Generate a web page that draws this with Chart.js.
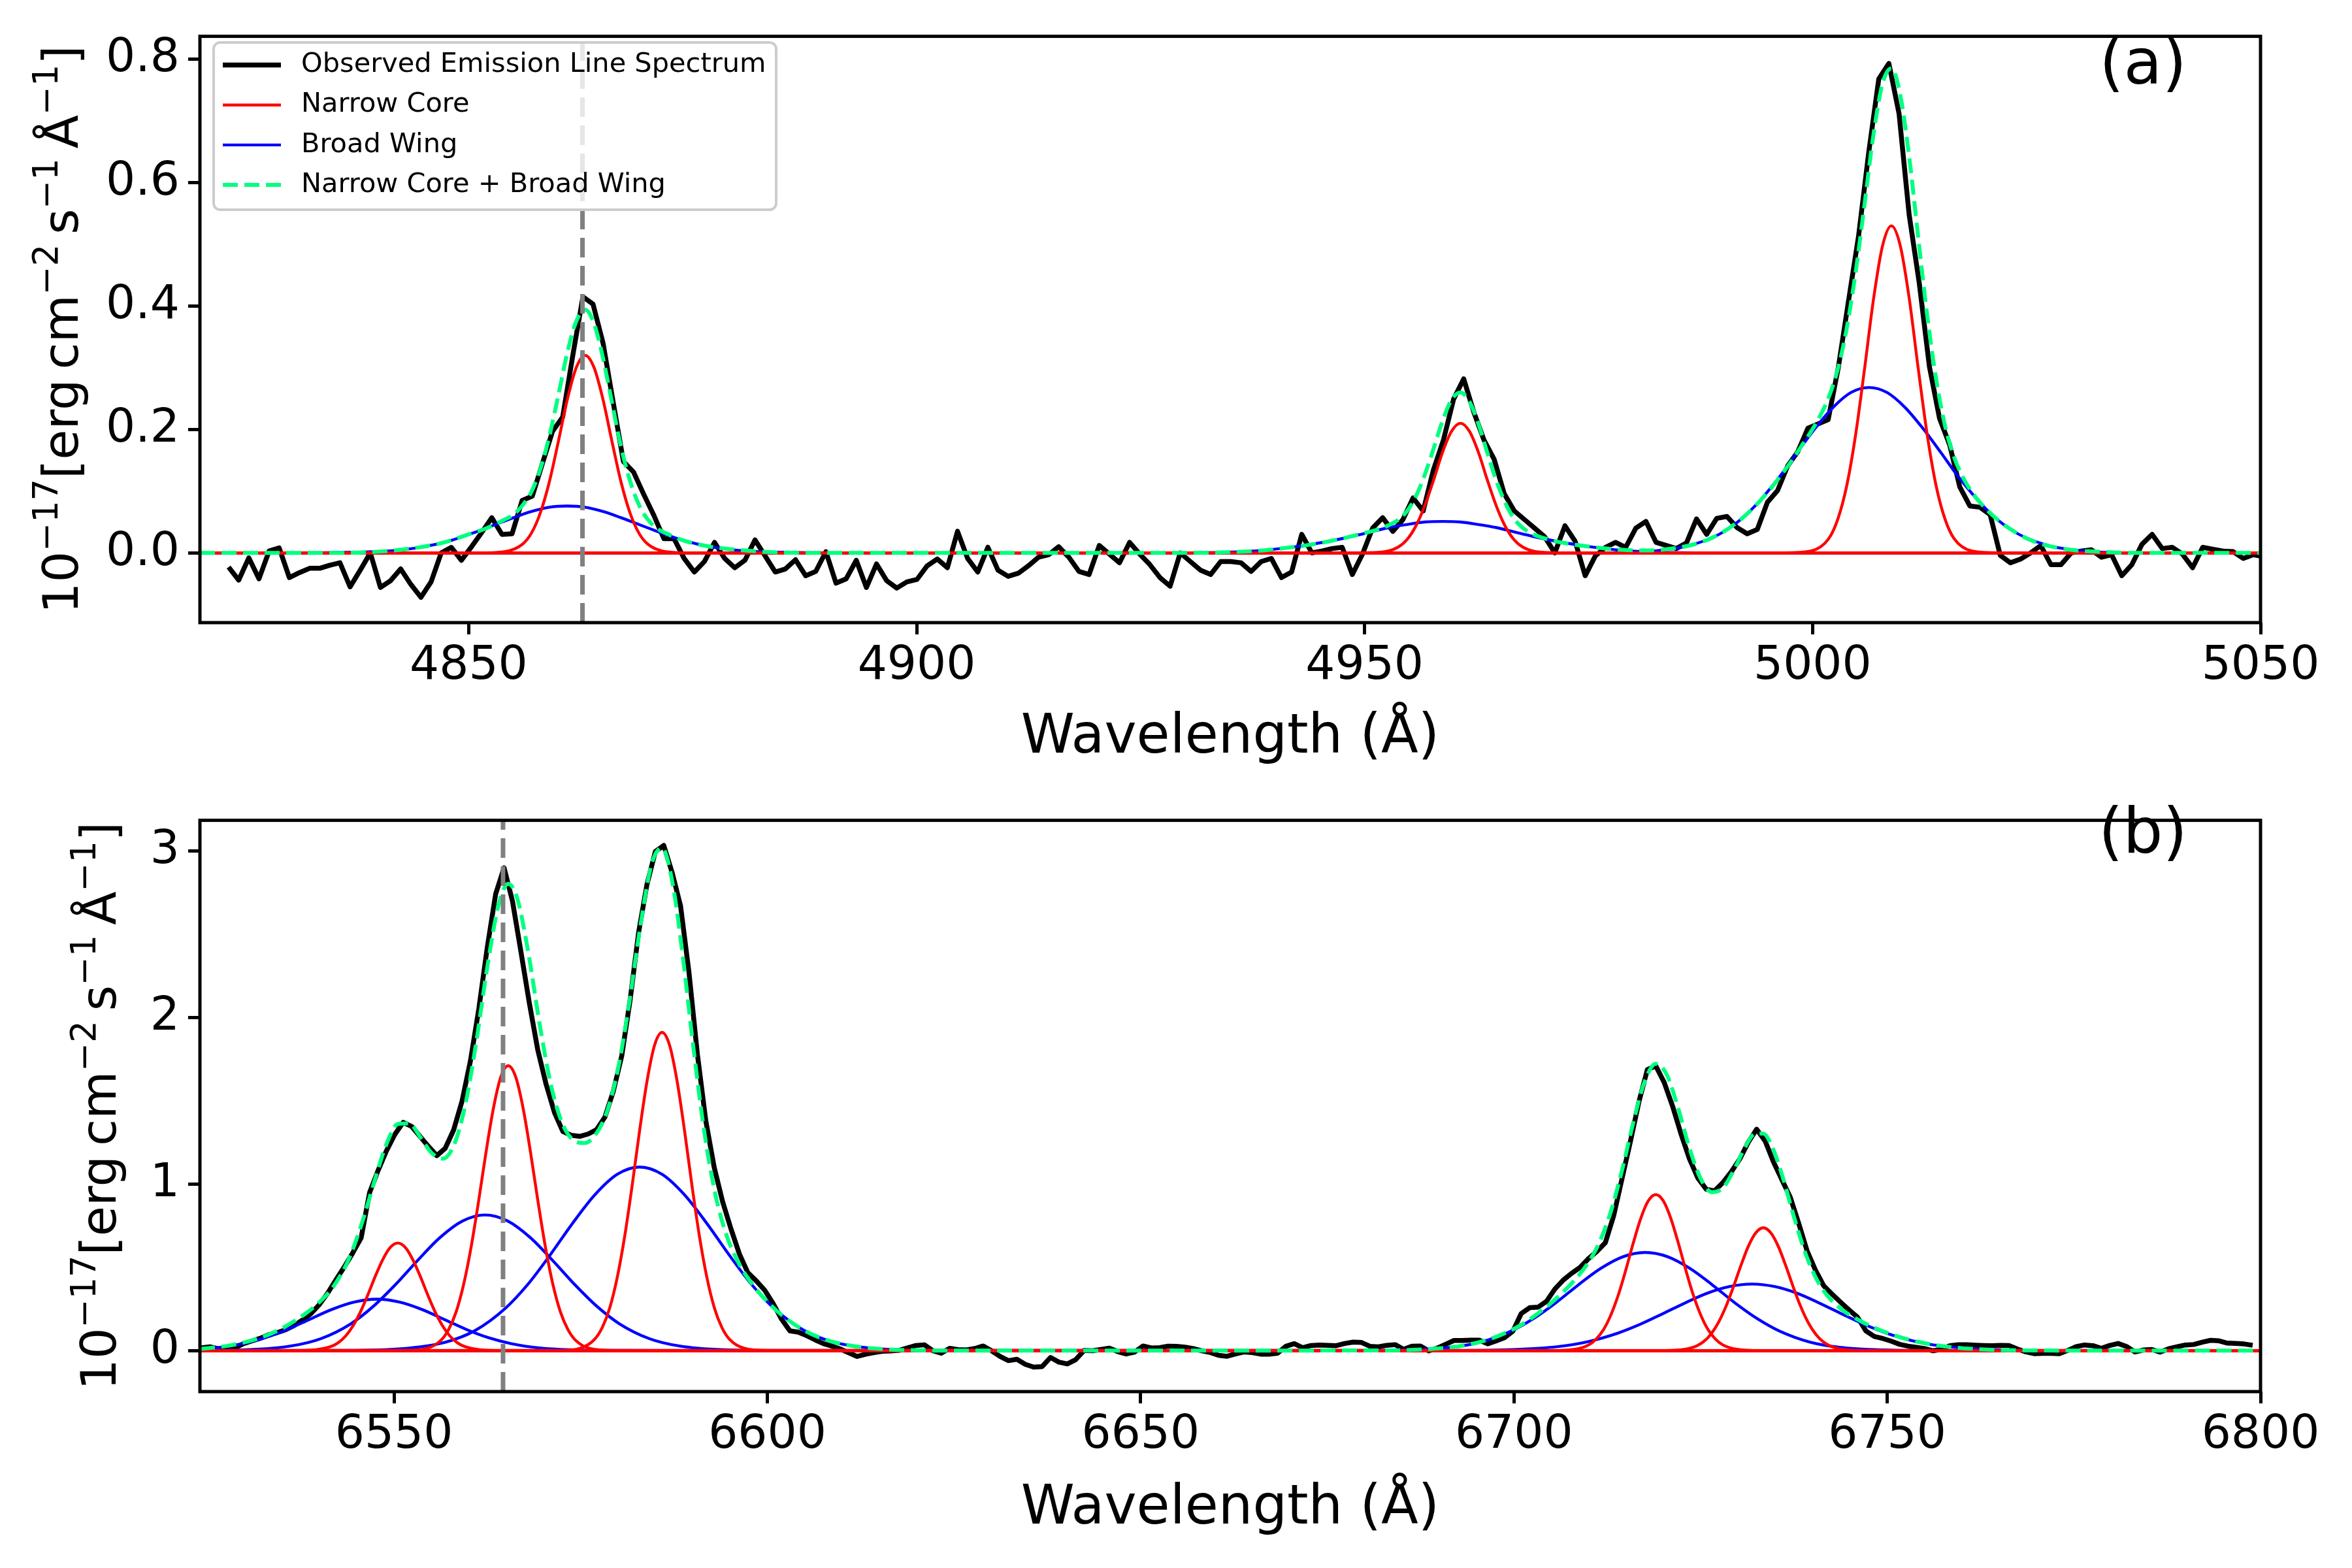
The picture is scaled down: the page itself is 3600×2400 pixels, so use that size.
<!DOCTYPE html>
<html>
<head>
<meta charset="utf-8">
<title>Emission line decomposition</title>
<script src="https://cdn.jsdelivr.net/npm/chart.js@4.4.1/dist/chart.umd.min.js"></script>
<style>
  html, body { margin: 0; padding: 0; background: #fff; }
  .panel { position: absolute; left: 0; width: 3600px; height: 1200px; }
  #boxA { top: 0; }
  #boxB { top: 1200px; }
</style>
</head>
<body>
<div class="panel" id="boxA"><canvas id="panelA"></canvas></div>
<div class="panel" id="boxB"><canvas id="panelB"></canvas></div>
<script>
// ---------- panel (a): H-beta + [OIII] ----------
const waveStartA = 4823.2;
const waveStepA = 1.13;
const obsFluxA = [
  -0.023, -0.044, -0.008, -0.042, 0.003, 0.008, -0.040, -0.032, -0.025, -0.025,
  -0.020, -0.016, -0.055, -0.028, 0.000, -0.056, -0.045, -0.026, -0.051, -0.072,
  -0.047, 0.000, 0.009, -0.012, 0.010, 0.033, 0.057, 0.030, 0.031, 0.085,
  0.092, 0.145, 0.197, 0.220, 0.320, 0.415, 0.403, 0.339, 0.243, 0.148,
  0.131, 0.095, 0.061, 0.023, 0.023, -0.009, -0.031, -0.014, 0.017, -0.009,
  -0.024, -0.012, 0.021, -0.005, -0.031, -0.026, -0.011, -0.037, -0.030, 0.002,
  -0.049, -0.042, -0.012, -0.056, -0.018, -0.045, -0.057,
  -0.047, -0.043, -0.021,
  -0.010, -0.024, 0.035, -0.009, -0.031, 0.009, -0.028, -0.038, -0.033, -0.021,
  -0.007, -0.003, 0.010, -0.007, -0.030, -0.035, 0.012, -0.002, -0.016, 0.017,
  -0.002, -0.019, -0.040, -0.054, 0.000, -0.014, -0.028, -0.035, -0.014, -0.014,
  -0.016, -0.030, -0.014, -0.009, -0.040, -0.031, 0.030, 0.000, 0.003, 0.007,
  0.009, -0.035, -0.002, 0.040, 0.057, 0.035, 0.054, 0.089, 0.068, 0.134,
  0.183, 0.249, 0.282, 0.228, 0.183, 0.152, 0.096, 0.068, 0.054, 0.040,
  0.026, 0.000, 0.044, 0.019, -0.037, -0.005,
  0.009, 0.017, 0.009, 0.040, 0.051, 0.017, 0.012, 0.007, 0.016, 0.055,
  0.030, 0.056, 0.059, 0.041, 0.031, 0.038, 0.082, 0.101, 0.141, 0.164,
  0.202, 0.209, 0.216,
  0.300, 0.407, 0.513, 0.648, 0.768, 0.793, 0.712, 0.548, 0.437, 0.302,
  0.218, 0.175, 0.107, 0.076, 0.074, 0.062, -0.004, -0.016, -0.010, 0.000,
  0.012, -0.019, -0.019, 0.000, 0.003, 0.005, -0.007, -0.003, -0.037, -0.019,
  0.014, 0.030, 0.007, 0.009, -0.002, -0.024, 0.009, 0.006, 0.003, 0.002,
  -0.009, -0.003, -0.006
];

const coreOffsetsA = [-12, -9, -7, -6, -5, -4, -3, -2, -1, 0, 1, 2, 3, 4, 5, 6, 7, 9, 12];
const coreCentersA = [4863.0, 4960.7, 5008.8];
const coreA1 = [0, 0.002, 0.014, 0.032, 0.065, 0.115, 0.180, 0.248, 0.300, 0.320, 0.300, 0.248, 0.180, 0.115, 0.065, 0.032, 0.014, 0.002, 0];
const coreA2 = [0, 0.001, 0.009, 0.021, 0.043, 0.076, 0.118, 0.163, 0.197, 0.210, 0.197, 0.163, 0.118, 0.076, 0.043, 0.021, 0.009, 0.001, 0];
const coreA3 = [0, 0.003, 0.023, 0.054, 0.108, 0.191, 0.298, 0.411, 0.497, 0.530, 0.497, 0.411, 0.298, 0.191, 0.108, 0.054, 0.023, 0.003, 0];

const wingOffsetsA = [-30, -24, -20, -16, -13, -10, -8, -6, -4, -2, 0, 2, 4, 6, 8, 10, 13, 16, 20, 24, 30];
const wingCentersA = [4861.0, 4958.7, 5006.3];
const wingA1 = [0, 0.001, 0.003, 0.010, 0.020, 0.035, 0.046, 0.057, 0.067, 0.074, 0.076, 0.074, 0.067, 0.057, 0.046, 0.035, 0.020, 0.010, 0.003, 0.001, 0];
const wingA2 = [0, 0.001, 0.004, 0.011, 0.018, 0.027, 0.034, 0.041, 0.046, 0.050, 0.051, 0.050, 0.046, 0.041, 0.034, 0.027, 0.018, 0.011, 0.004, 0.001, 0];
const wingA3 = [0, 0.003, 0.012, 0.036, 0.072, 0.123, 0.163, 0.202, 0.236, 0.260, 0.268, 0.260, 0.236, 0.202, 0.163, 0.123, 0.072, 0.036, 0.012, 0.003, 0];

const sumWaveA = [
  4820, 4835, 4840, 4844, 4847, 4850, 4852,
  4854, 4855, 4856, 4857, 4858, 4859, 4860, 4861, 4862, 4863, 4864, 4865, 4866, 4867, 4868, 4869, 4870, 4871, 4872,
  4874, 4877, 4880, 4884, 4888, 4895,
  4925.7, 4930.7, 4934.7, 4938.7, 4941.7, 4944.7, 4947.7, 4949.7,
  4951.7, 4952.7, 4953.7, 4954.7, 4955.7, 4956.7, 4957.7, 4958.7, 4959.7, 4960.7, 4961.7, 4962.7, 4963.7, 4964.7, 4965.7, 4966.7, 4967.7, 4968.7,
  4970.7, 4972.7, 4975.7, 4978.7, 4981.7, 4984.7,
  4987.3, 4989.8, 4991.8, 4993.8, 4995.8, 4997.8,
  4998.8, 4999.8, 5000.8, 5001.8, 5002.8, 5003.8, 5004.8, 5005.8, 5006.8, 5007.8, 5008.8, 5009.8, 5010.8, 5011.8, 5012.8, 5013.8, 5014.8, 5015.8, 5016.8, 5017.8, 5018.8,
  5020.8, 5022.8, 5024.8, 5026.8, 5028.8, 5031.8, 5035.8, 5050
];
const sumFluxA = [
  0, 0, 0.002, 0.008, 0.016, 0.030, 0.040,
  0.054, 0.062, 0.077, 0.099, 0.136, 0.189, 0.255, 0.324, 0.375, 0.394, 0.371, 0.315, 0.243, 0.172, 0.117, 0.078, 0.054, 0.040, 0.032,
  0.020, 0.010, 0.005, 0.001, 0, 0,
  0, 0, 0.001, 0.004, 0.009, 0.015, 0.024, 0.031,
  0.039, 0.045, 0.053, 0.067, 0.091, 0.126, 0.169, 0.214, 0.248, 0.260, 0.245, 0.209, 0.162, 0.117, 0.081, 0.055, 0.040, 0.031,
  0.021, 0.015, 0.009, 0.005, 0.004, 0.008,
  0.016, 0.032, 0.052, 0.079, 0.113, 0.152,
  0.174, 0.196, 0.221, 0.252, 0.297, 0.363, 0.454, 0.565, 0.678, 0.760, 0.785, 0.741, 0.640, 0.510, 0.384, 0.281, 0.205, 0.155, 0.122, 0.098, 0.080,
  0.052, 0.032, 0.018, 0.010, 0.005, 0.002, 0, 0
];

const xTicksA = [4850, 4900, 4950, 5000, 5050];
const yTicksA = [0, 0.2, 0.4, 0.6, 0.8];
const yTickLabelsA = ['0.0', '0.2', '0.4', '0.6', '0.8'];

// ---------- panel (b): H-alpha + [NII] + [SII] ----------
const waveStartB = 6524.2;
const waveStepB = 1.126;
const obsFluxB = [
  0.017, 0.023, 0.011, 0.004, 0.016, 0.042, 0.058, 0.074, 0.096, 0.108,
  0.125, 0.150, 0.183, 0.221, 0.275, 0.344, 0.425, 0.503, 0.587, 0.677,
  0.948, 1.080, 1.199, 1.298, 1.371, 1.347, 1.287, 1.227, 1.171, 1.215,
  1.325, 1.498, 1.740, 2.053, 2.420, 2.742, 2.900, 2.700, 2.398, 2.090,
  1.809, 1.600, 1.430, 1.316, 1.293, 1.287, 1.301, 1.327, 1.403, 1.558,
  1.770, 2.107, 2.510, 2.800, 2.998, 3.034, 2.870, 2.670, 2.270, 1.780,
  1.380, 1.100, 0.894, 0.730, 0.580, 0.468, 0.419, 0.363, 0.284, 0.190,
  0.119, 0.111, 0.090, 0.065, 0.042, 0.027, 0.010, -0.013, -0.035, -0.022,
  -0.012, -0.004, -0.002, 0.002, 0.017, 0.031, 0.035, 0.000, -0.015, 0.014,
  0.006, 0.004, 0.013, 0.028, -0.001, -0.035, -0.060, -0.052, -0.082, -0.099,
  -0.096, -0.041, -0.069, -0.080, -0.054, 0.001, -0.001, 0.007, 0.015, -0.006,
  -0.020, -0.009, 0.028, 0.016, 0.018, 0.027, 0.026, 0.021, 0.012, -0.001,
  -0.011, -0.028, -0.034, -0.020, -0.008, -0.012, -0.021, -0.021, -0.016, 0.026,
  0.042, 0.017, 0.031, 0.034, 0.032, 0.030, 0.043, 0.051, 0.049, 0.026,
  0.023, 0.032, 0.036, 0.008, 0.027, 0.028, -0.002, 0.015, 0.038, 0.061,
  0.061, 0.063, 0.063, 0.041, 0.058, 0.078, 0.117, 0.223, 0.258, 0.261,
  0.296, 0.370, 0.424, 0.465, 0.500, 0.553, 0.596, 0.648, 0.812, 1.036,
  1.260, 1.495, 1.688, 1.710, 1.611, 1.468, 1.302, 1.153, 1.037, 0.969,
  0.960, 1.010, 1.075, 1.152, 1.251, 1.330, 1.260, 1.134, 1.027, 0.921,
  0.765, 0.599, 0.483, 0.388, 0.338, 0.290, 0.244, 0.201, 0.118, 0.085,
  0.073, 0.057, 0.038, 0.027, 0.020, 0.012, -0.001, 0.008, 0.030, 0.036,
  0.036, 0.033, 0.031, 0.030, 0.032, 0.031, 0.010, -0.007, -0.018, -0.016,
  -0.016, -0.018, 0.001, 0.024, 0.034, 0.030, 0.014, 0.031, 0.043, 0.025,
  -0.008, 0.004, 0.007, -0.009, 0.011, 0.023, 0.034, 0.037, 0.051, 0.062,
  0.059, 0.045, 0.043, 0.040, 0.032
];

const coreOffsetsB = [-14, -11, -9, -8, -7, -6, -5, -4, -3, -2, -1, 0, 1, 2, 3, 4, 5, 6, 7, 8, 9, 11, 14];
const coreCentersB = [6550.5, 6565.3, 6585.9, 6719.0, 6733.4];
const coreB1 = [0, 0.005, 0.024, 0.047, 0.087, 0.149, 0.233, 0.336, 0.448, 0.548, 0.620, 0.646, 0.620, 0.548, 0.448, 0.336, 0.233, 0.149, 0.087, 0.047, 0.024, 0.005, 0];
const coreB2 = [0.001, 0.012, 0.063, 0.126, 0.231, 0.394, 0.616, 0.890, 1.186, 1.453, 1.643, 1.711, 1.643, 1.453, 1.186, 0.890, 0.616, 0.394, 0.231, 0.126, 0.063, 0.012, 0.001];
const coreB3 = [0.001, 0.014, 0.070, 0.140, 0.258, 0.440, 0.688, 0.994, 1.324, 1.622, 1.835, 1.911, 1.835, 1.622, 1.324, 0.994, 0.688, 0.440, 0.258, 0.140, 0.070, 0.014, 0.001];
const coreB4 = [0, 0.007, 0.034, 0.069, 0.126, 0.216, 0.337, 0.487, 0.649, 0.796, 0.900, 0.937, 0.900, 0.796, 0.649, 0.487, 0.337, 0.216, 0.126, 0.069, 0.034, 0.007, 0];
const coreB5 = [0, 0.005, 0.027, 0.054, 0.100, 0.170, 0.266, 0.384, 0.511, 0.627, 0.708, 0.738, 0.708, 0.627, 0.511, 0.384, 0.266, 0.170, 0.100, 0.054, 0.027, 0.005, 0];

const wingOffsetsB = [-40, -32, -26, -22, -18, -15, -12, -9, -6, -3, 0, 3, 6, 9, 12, 15, 18, 22, 26, 32, 40];
const wingCentersB = [6547.7, 6562.2, 6582.9, 6717.6, 6731.9];
const wingB1 = [0, 0.001, 0.005, 0.015, 0.042, 0.077, 0.127, 0.188, 0.248, 0.292, 0.309, 0.292, 0.248, 0.188, 0.127, 0.077, 0.042, 0.015, 0.005, 0.001, 0];
const wingB2 = [0, 0.005, 0.028, 0.072, 0.161, 0.265, 0.397, 0.544, 0.681, 0.779, 0.815, 0.779, 0.681, 0.544, 0.397, 0.265, 0.161, 0.072, 0.028, 0.005, 0];
const wingB3 = [0.001, 0.011, 0.051, 0.122, 0.254, 0.397, 0.574, 0.764, 0.936, 1.059, 1.103, 1.059, 0.936, 0.764, 0.574, 0.397, 0.254, 0.122, 0.051, 0.011, 0.001];
const wingB4 = [0, 0.004, 0.020, 0.052, 0.117, 0.192, 0.287, 0.394, 0.493, 0.564, 0.590, 0.564, 0.493, 0.394, 0.287, 0.192, 0.117, 0.052, 0.020, 0.004, 0];
const wingB5 = [0.001, 0.006, 0.024, 0.054, 0.105, 0.158, 0.221, 0.286, 0.345, 0.385, 0.400, 0.385, 0.345, 0.286, 0.221, 0.158, 0.105, 0.054, 0.024, 0.006, 0.001];

const sumWaveB = [
  6524, 6528, 6532, 6535, 6538, 6540, 6542, 6544, 6546, 6547.5,
  6549, 6550.5, 6552, 6553.5, 6555, 6556.5, 6558, 6559.5, 6561, 6562.5,
  6564, 6565.3, 6566.5, 6568, 6569.5, 6571, 6572.5, 6574, 6575.5, 6577,
  6578.5, 6580, 6581.5, 6583, 6584.5, 6585.9, 6587.3, 6588.7, 6590, 6591.5,
  6593, 6594.5, 6596, 6598, 6600, 6602, 6605, 6608, 6612, 6616,
  6620, 6626, 6680, 6688, 6694, 6698, 6701, 6704, 6706, 6708,
  6710, 6711.5, 6713, 6714.5, 6716, 6717.5, 6719, 6720.5, 6722, 6723.5,
  6725, 6726.5, 6728, 6729.5, 6731, 6732.3, 6733.4, 6734.6, 6736, 6737.5,
  6739, 6740.5, 6742, 6744, 6746, 6748, 6751, 6754, 6758, 6763,
  6770, 6780, 6800
];
const sumFluxB = [
  0.010, 0.031, 0.076, 0.134, 0.218, 0.291, 0.393, 0.556, 0.808, 1.037,
  1.242, 1.361, 1.365, 1.284, 1.189, 1.153, 1.232, 1.466, 1.850, 2.306,
  2.677, 2.804, 2.717, 2.387, 1.962, 1.599, 1.369, 1.265, 1.247, 1.298,
  1.433, 1.691, 2.087, 2.552, 2.922, 3.019, 2.809, 2.359, 1.857, 1.331,
  0.946, 0.697, 0.539, 0.398, 0.294, 0.211, 0.120, 0.063, 0.024, 0.008,
  0.002, 0, 0.001, 0.008, 0.037, 0.090, 0.156, 0.250, 0.327, 0.417,
  0.532, 0.656, 0.838, 1.087, 1.373, 1.615, 1.723, 1.655, 1.455, 1.218,
  1.034, 0.952, 0.978, 1.088, 1.225, 1.303, 1.304, 1.223, 1.042, 0.804,
  0.590, 0.432, 0.329, 0.244, 0.188, 0.143, 0.091, 0.054, 0.024, 0.007,
  0.001, 0, 0
];

const xTicksB = [6550, 6600, 6650, 6700, 6750, 6800];
const yTicksB = [0, 1, 2, 3];
const yTickLabelsB = ['0', '1', '2', '3'];

const legendLabels = ['Observed Emission Line Spectrum', 'Narrow Core', 'Broad Wing', 'Narrow Core + Broad Wing'];
const xTitle = 'Wavelength (Å)';
// y label in pieces: [text, isSuperscript]; null = thin space
const yTitleParts = [['10', false], ['−17', true], ['[erg', false], null, ['cm', false], ['−2', true], null,
                     ['s', false], ['−1', true], null, ['Å', false], ['−1', true], [']', false]];

// ---------- drawing ----------
const FAMILY = '"DejaVu Sans", "Liberation Sans", sans-serif';
Chart.defaults.font.family = FAMILY;

function sampled(start, step, flux) {
    return flux.map((y, i) => ({ x: start + i * step, y: y }));
}

function paired(xs, ys) {
    return xs.map((x, i) => ({ x: x, y: ys[i] }));
}

// one gaussian component; it is zero out to both edges of the panel
function profile(center, offsets, values, xMin, xMax) {
    const pts = offsets.map((d, i) => ({ x: center + d, y: values[i] }));
    if (pts[0].x > xMin) pts.unshift({ x: xMin, y: 0 });
    if (pts[pts.length - 1].x < xMax) pts.push({ x: xMax, y: 0 });
    return pts;
}

function buildDatasets(p) {
    const line = { showLine: true, pointRadius: 0, pointHoverRadius: 0, fill: false, borderJoinStyle: 'round' };
    const ds = [];
    ds.push(Object.assign({}, line, {
        label: legendLabels[0], data: sampled(p.waveStart, p.waveStep, p.obsFlux),
        borderColor: '#000000', borderWidth: 7.5, order: 3
    }));
    p.cores.forEach((vals, k) => ds.push(Object.assign({}, line, {
        label: legendLabels[1], data: profile(p.coreCenters[k], p.coreOffsets, vals, p.xMin, p.xMax),
        borderColor: '#ff0000', borderWidth: 4.4, cubicInterpolationMode: 'monotone', order: 1
    })));
    p.wings.forEach((vals, k) => ds.push(Object.assign({}, line, {
        label: legendLabels[2], data: profile(p.wingCenters[k], p.wingOffsets, vals, p.xMin, p.xMax),
        borderColor: '#0000ff', borderWidth: 4.4, cubicInterpolationMode: 'monotone', order: 2
    })));
    ds.push(Object.assign({}, line, {
        label: legendLabels[3], data: paired(p.sumWave, p.sumFlux),
        borderColor: '#00ff7f', borderWidth: 6, borderDash: [23, 10], borderCapStyle: 'butt',
        cubicInterpolationMode: 'monotone', order: 0
    }));
    ds.push(Object.assign({}, line, {
        label: 'marker', data: [{ x: p.marker, y: p.yMin }, { x: p.marker, y: p.yMax }],
        borderColor: '#808080', borderWidth: 7, borderDash: [30, 13], borderCapStyle: 'butt', order: -1
    }));
    return ds;
}

function drawYTitle(ctx, cx, cy, size) {
    const sup = size * 0.7;
    const gap = size * 0.2;
    const pieces = yTitleParts.map(part => {
        if (part === null) return { gap: gap };
        ctx.font = (part[1] ? sup : size) + 'px ' + FAMILY;
        return { text: part[0], sup: part[1], w: ctx.measureText(part[0]).width };
    });
    const total = pieces.reduce((s, q) => s + (q.gap !== undefined ? q.gap : q.w), 0);
    ctx.save();
    ctx.translate(cx, cy);
    ctx.rotate(-Math.PI / 2);
    ctx.fillStyle = '#000';
    ctx.textBaseline = 'alphabetic';
    ctx.textAlign = 'left';
    let x = -total / 2;
    pieces.forEach(q => {
        if (q.gap !== undefined) { x += q.gap; return; }
        ctx.font = (q.sup ? sup : size) + 'px ' + FAMILY;
        ctx.fillText(q.text, x, q.sup ? -size * 0.42 : 0);
        x += q.w;
    });
    ctx.restore();
}

function drawLegend(chart) {
    const ctx = chart.ctx;
    const box = { x: 327, y: 65, w: 861, h: 256, r: 10 };
    ctx.save();
    ctx.beginPath();
    ctx.roundRect(box.x, box.y, box.w, box.h, box.r);
    ctx.fillStyle = 'rgba(255,255,255,0.8)';
    ctx.fill();
    ctx.lineWidth = 4;
    ctx.strokeStyle = '#cccccc';
    ctx.stroke();
    ctx.font = '41.5px ' + FAMILY;
    ctx.textBaseline = 'middle';
    ctx.textAlign = 'left';
    legendLabels.forEach((text, row) => {
        const ds = chart.data.datasets.find(d => d.label === text);
        const y = 99.5 + row * 61.2;
        ctx.beginPath();
        ctx.setLineDash(ds.borderDash || []);
        ctx.lineWidth = ds.borderWidth;
        ctx.strokeStyle = ds.borderColor;
        ctx.lineCap = 'butt';
        ctx.moveTo(341, y);
        ctx.lineTo(430, y);
        ctx.stroke();
        ctx.setLineDash([]);
        ctx.fillStyle = '#000';
        ctx.fillText(text, 461, y);
    });
    ctx.restore();
}

const decorPlugin = {
    id: 'decor',
    afterDatasetsDraw(chart, args, opts) {
        const ctx = chart.ctx;
        const a = chart.chartArea;
        ctx.save();
        ctx.strokeStyle = '#000';
        ctx.lineWidth = 5;
        ctx.setLineDash([]);
        ctx.strokeRect(a.left, a.top, a.right - a.left, a.bottom - a.top);
        ctx.fillStyle = '#000';
        ctx.font = '96px ' + FAMILY;
        ctx.textAlign = 'center';
        ctx.textBaseline = 'middle';
        ctx.fillText(opts.tag, opts.tagX, opts.tagY);
        ctx.restore();
        drawYTitle(ctx, opts.yTitleX, (a.top + a.bottom) / 2, 75);
        if (opts.legend) drawLegend(chart);
    }
};

function makeChart(canvasId, p) {
    const tickFont = { family: FAMILY, size: 71 };
    const grid = { display: true, drawOnChartArea: false, drawTicks: true, tickLength: 18, tickWidth: 5, tickColor: '#000' };
    return new Chart(document.getElementById(canvasId), {
        type: 'scatter',
        data: { datasets: buildDatasets(p) },
        plugins: [decorPlugin],
        options: {
            responsive: true,
            maintainAspectRatio: false,
            devicePixelRatio: 1,
            animation: false,
            events: [],
            layout: { padding: { left: 0, right: 140, top: p.padTop, bottom: 0 } },
            plugins: {
                legend: { display: false },
                tooltip: { enabled: false },
                decor: { tag: p.tag, tagX: 3280, tagY: p.tagY, yTitleX: p.yTitleX, legend: p.legend }
            },
            scales: {
                x: {
                    type: 'linear',
                    min: p.xMin,
                    max: p.xMax,
                    afterFit: s => { s.height = p.xAxisHeight; },
                    afterBuildTicks: s => { s.ticks = p.xTicks.map(v => ({ value: v })); },
                    ticks: { font: tickFont, color: '#000', padding: 7, maxRotation: 0, autoSkip: false,
                             callback: v => String(v) },
                    grid: grid,
                    border: { display: false },
                    title: { display: true, text: xTitle, color: '#000',
                             font: { family: FAMILY, size: 83 }, padding: { top: 0, bottom: p.titlePad } }
                },
                y: {
                    type: 'linear',
                    min: p.yMin,
                    max: p.yMax,
                    afterFit: s => { s.width = 306; },
                    afterBuildTicks: s => { s.ticks = p.yTicks.map(v => ({ value: v })); },
                    ticks: { font: tickFont, color: '#000', padding: 13, callback: (v, i) => p.yTickLabels[i] },
                    grid: grid,
                    border: { display: false }
                }
            }
        }
    });
}

makeChart('panelA', {
    waveStart: waveStartA, waveStep: waveStepA, obsFlux: obsFluxA,
    cores: [coreA1, coreA2, coreA3], coreCenters: coreCentersA, coreOffsets: coreOffsetsA,
    wings: [wingA1, wingA2, wingA3], wingCenters: wingCentersA, wingOffsets: wingOffsetsA,
    sumWave: sumWaveA, sumFlux: sumFluxA,
    marker: 4862.7,
    xMin: 4820, xMax: 5050, yMin: -0.113, yMax: 0.837,
    xTicks: xTicksA, yTicks: yTicksA, yTickLabels: yTickLabelsA,
    padTop: 44, xAxisHeight: 247, titlePad: 20,
    tag: '(a)', tagY: 103, yTitleX: 119, legend: true
});

makeChart('panelB', {
    waveStart: waveStartB, waveStep: waveStepB, obsFlux: obsFluxB,
    cores: [coreB1, coreB2, coreB3, coreB4, coreB5], coreCenters: coreCentersB, coreOffsets: coreOffsetsB,
    wings: [wingB1, wingB2, wingB3, wingB4, wingB5], wingCenters: wingCentersB, wingOffsets: wingOffsetsB,
    sumWave: sumWaveB, sumFlux: sumFluxB,
    marker: 6564.6,
    xMin: 6524, xMax: 6800, yMin: -0.246, yMax: 3.185,
    xTicks: xTicksB, yTicks: yTicksB, yTickLabels: yTickLabelsB,
    padTop: 24, xAxisHeight: 270, titlePad: 40,
    tag: '(b)', tagY: 80, yTitleX: 177, legend: false
});
</script>
</body>
</html>
